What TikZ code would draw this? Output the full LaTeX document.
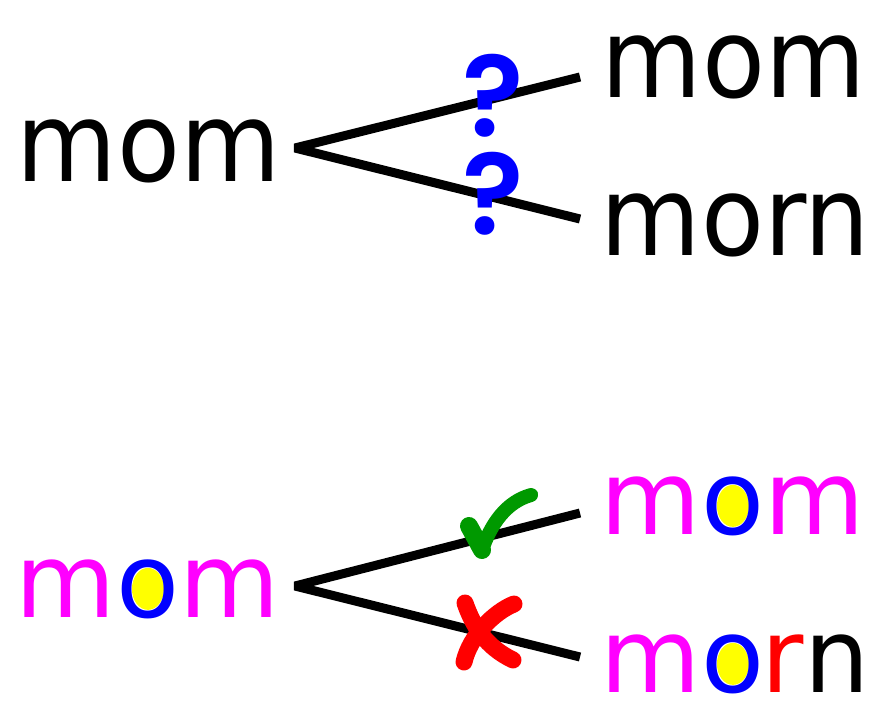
\documentclass[tikz,border=0pt]{standalone}
\usepackage{fontspec}
\usepackage{graphicx}
\usetikzlibrary{backgrounds}
\newfontfamily\wordfont{DejaVu Sans}
\newfontfamily\askfont{Poppins SemiBold}
\definecolor{wordpink}{RGB}{255,0,255}
\definecolor{wordblue}{RGB}{0,0,255}
\definecolor{holeyellow}{RGB}{255,255,0}
\definecolor{tickgreen}{RGB}{0,153,0}
\definecolor{crossred}{RGB}{255,0,0}
\newcommand{\tallword}[1]{\scalebox{1}[1.07]{#1}}
\tikzset{
  word/.style={inner sep=0pt, anchor=base west, font=\wordfont\fontsize{103}{110}\selectfont},
  ask/.style={inner sep=0pt, text=wordblue, font=\askfont\fontsize{114}{120}\selectfont},
  stroke/.style={line width=#1, line cap=round},
  branch/.style={line width=9pt, line join=bevel},
  hole/.style={fill=holeyellow},
}
\begin{document}
\begin{tikzpicture}[x=1pt, y=-1pt]
  \useasboundingbox (0,0) rectangle (896,717);

  % upper tree: which one?
  \node[word] (src) at (16.5,181) {\tallword{mom}};
  \node[word] (same) at (601.5,97) {\tallword{mom}};
  \node[word] (diff) at (600.5,255) {\tallword{morn}};
  \coordinate (fork) at (295,148);
  \coordinate (same_end) at (580,77);
  \coordinate (diff_end) at (580,219);
  \draw[branch] (same_end) -- (fork) -- (diff_end);
  \node[ask] (q_same) at (493,96) {?};
  \node[ask] (q_diff) at (493,194) {?};

  % lower tree, letter by letter
  \node[word, text=wordpink] (l_m1) at (15.5,617) {m};
  \node[word, text=wordblue] (l_o) at (l_m1.base east) {o};
  \node[word, text=wordpink] (l_m2) at (l_o.base east) {m};

  \node[word, text=wordpink] (r1_m1) at (600.5,534) {m};
  \node[word, text=wordblue] (r1_o) at (r1_m1.base east) {o};
  \node[word, text=wordpink] (r1_m2) at (r1_o.base east) {m};

  \node[word, text=wordpink] (r2_m) at (600.5,692) {m};
  \node[word, text=wordblue] (r2_o) at (r2_m.base east) {o};
  \node[word, text=crossred] (r2_r) at ([xshift=-3pt]r2_o.base east) {r};
  \node[word] (r2_n) at (r2_r.base east) {n};

  \begin{scope}[on background layer]
    \foreach \w in {l_o, r1_o, r2_o}
      \fill[hole] (\w.center) ellipse [x radius=16pt, y radius=21pt];
  \end{scope}

  \coordinate (fork2) at (295,586);
  \coordinate (keep_end) at (580,513);
  \coordinate (drop_end) at (580,657);
  \draw[branch] (keep_end) -- (fork2) -- (drop_end);

  % tick and cross, brush strokes
  \draw[stroke=18pt, tickgreen] (469,526) -- (482,550);
  \draw[stroke=14pt, tickgreen] (482,550) .. controls (491,524) and (506,502) .. (531,495);
  \draw[stroke=10pt, tickgreen] (518,500) -- (533,494);
  \draw[stroke=17pt, crossred] (465,603) .. controls (473,626) and (486,647) .. (513,660);
  \draw[stroke=17pt, crossred] (514,604) .. controls (494,612) and (470,636) .. (464,662);
\end{tikzpicture}
\end{document}
